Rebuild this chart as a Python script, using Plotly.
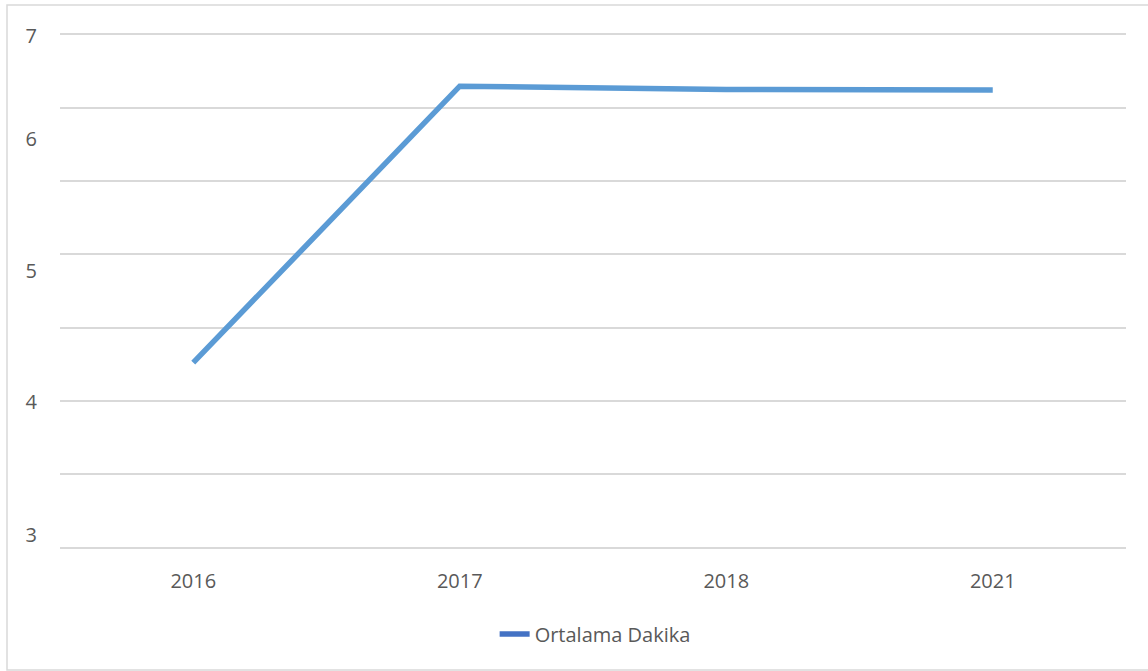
import plotly.graph_objects as go

# Average minutes per year
years = ["2016", "2017", "2018", "2021"]
avg_minutes = [4.44, 6.60, 6.575, 6.57]
series_name = "Ortalama Dakika"

# Value-axis labels and where they sit on the value scale
y_tick_text = ["3", "4", "5", "6", "7"]
y_tick_vals = [3.09, 4.13, 5.16, 6.19, 6.99]

Y_MIN, Y_MAX = 3.0, 7.0
GRID_STEP = (Y_MAX - Y_MIN) / 7

TEXT = "#595959"
GRID = "#D9D9D9"
FONT = "Open Sans"

W, H = 1148, 671
ML, MR, MT, MB = 60, 22, 35, 124
PW, PH = W - ML - MR, H - MT - MB

fig = go.Figure()

fig.add_trace(go.Scatter(
    x=years, y=avg_minutes, mode="lines",
    line=dict(color="#5B9BD5", width=5.5),
    showlegend=False, hoverinfo="x+y",
))

# legend key
fig.add_trace(go.Scatter(
    x=[None], y=[None], mode="lines", name=series_name,
    line=dict(color="#4472C4", width=5.5),
))

# dummy trace that carries the left label axis
fig.add_trace(go.Scatter(
    x=[years[0]], y=[None], yaxis="y2", showlegend=False, hoverinfo="skip",
))

# outer chart frame
fig.add_shape(
    type="rect", xref="paper", yref="paper",
    x0=(7 - ML) / PW, x1=(W + 5 - ML) / PW,
    y0=(MT + PH - 670) / PH, y1=(MT + PH - 5) / PH,
    line=dict(color=GRID, width=1.5), fillcolor="rgba(0,0,0,0)", layer="below",
)

fig.update_layout(
    width=W, height=H,
    margin=dict(l=ML, r=MR, t=MT, b=MB, pad=0, autoexpand=False),
    paper_bgcolor="white", plot_bgcolor="white",
    font=dict(family=FONT, size=20, color=TEXT),
    xaxis=dict(
        type="category", range=[-0.5, 3.5],
        showgrid=False, zeroline=False,
        showline=True, mirror=True, linecolor=GRID, linewidth=1.5,
        ticks="", ticklabelstandoff=15,
        tickfont=dict(family=FONT, size=20, color=TEXT),
    ),
    yaxis=dict(
        range=[Y_MIN, Y_MAX],
        tickmode="linear", tick0=Y_MIN, dtick=GRID_STEP,
        showticklabels=False, ticks="",
        showgrid=True, gridcolor=GRID, gridwidth=1.5,
        zeroline=False, showline=False,
    ),
    yaxis2=dict(
        overlaying="y", side="left",
        range=[Y_MIN, Y_MAX],
        tickmode="array", tickvals=y_tick_vals, ticktext=y_tick_text,
        showgrid=False, zeroline=False, showline=False,
        ticks="", ticklabelstandoff=22,
        tickfont=dict(family=FONT, size=20, color=TEXT),
    ),
    legend=dict(
        orientation="h", x=0.502, xanchor="center",
        y=-0.132, yanchor="top",
        font=dict(family=FONT, size=20, color=TEXT),
        bgcolor="rgba(0,0,0,0)",
    ),
    showlegend=True,
)

fig.write_html("out.html")
